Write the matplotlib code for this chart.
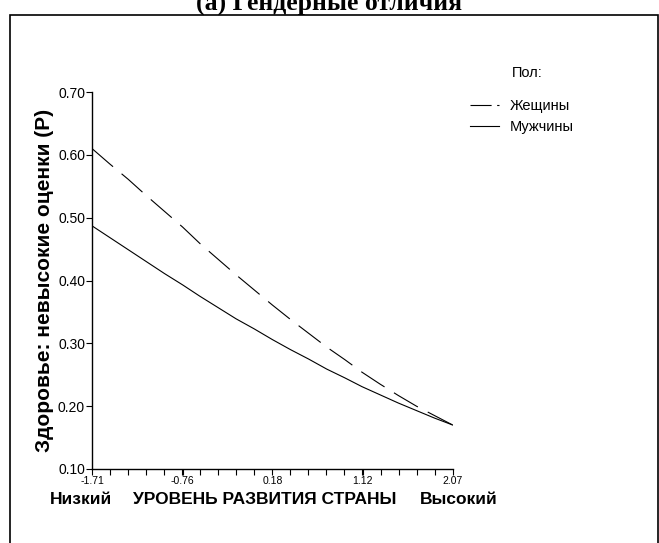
import numpy as np
import matplotlib.pyplot as plt
from matplotlib.patches import Rectangle
from matplotlib.ticker import FixedLocator

# development level (x) and predicted probability of poor self-rated health
dev_level = [-1.71, -1.52, -1.33, -1.14, -0.95, -0.76, -0.58, -0.39, -0.20, -0.01,
             0.18, 0.37, 0.56, 0.75, 0.94, 1.12, 1.31, 1.50, 1.69, 1.88, 2.07]
women = [0.610, 0.585, 0.561, 0.535, 0.510, 0.485, 0.459, 0.434, 0.409, 0.385,
         0.361, 0.338, 0.316, 0.294, 0.274, 0.254, 0.235, 0.217, 0.200, 0.185, 0.170]
men = [0.487, 0.468, 0.449, 0.430, 0.411, 0.393, 0.375, 0.357, 0.339, 0.323,
       0.306, 0.290, 0.275, 0.259, 0.245, 0.231, 0.218, 0.205, 0.193, 0.181, 0.170]

x_major = [-1.71, -0.76, 0.18, 1.12, 2.07]
x_labels = ['-1.71', '-0.76', '0.18', '1.12', '2.07']
y_major = [0.10, 0.20, 0.30, 0.40, 0.50, 0.60, 0.70]

sans = ['Liberation Sans', 'DejaVu Sans']

W, H = 659, 543
fig = plt.figure(figsize=(W / 100, H / 100), dpi=100)
ax = fig.add_axes([92 / W, 1 - 469 / H, 360.7 / W, 377 / H])

ax.plot(dev_level, women, color='black', lw=0.8, linestyle=(0, (25, 10)), label='Жещины')
ax.plot(dev_level, men, color='black', lw=0.8, label='Мужчины')

ax.set_xlim(-1.71, 2.07)
ax.set_ylim(0.10, 0.70)
ax.spines['top'].set_visible(False)
ax.spines['right'].set_visible(False)
for s in ['left', 'bottom']:
    ax.spines[s].set_linewidth(1.0)

ax.set_xticks(x_major)
ax.set_xticklabels(x_labels, family=sans, fontsize=7.5)
ax.xaxis.set_minor_locator(FixedLocator(np.linspace(-1.71, 2.07, 21)))
ax.set_yticks(y_major)
ax.set_yticklabels(['%.2f' % v for v in y_major], family=sans, fontsize=10)
ax.tick_params(axis='x', which='both', length=4, width=0.8, pad=1)
ax.tick_params(axis='y', length=4, width=0.8, pad=1)

ax.set_ylabel('Здоровье: невысокие оценки (Р)', family=sans, fontsize=15,
              fontweight='bold', labelpad=3)

leg = ax.legend(loc='upper left', bbox_to_anchor=(463 / W, 1 - 92 / H),
                bbox_transform=fig.transFigure, frameon=False, handlelength=2.0,
                handletextpad=0.7, labelspacing=0.45, borderpad=0,
                prop={'family': sans, 'size': 10.5})
leg.get_lines()[0].set_linestyle((0, (19, 5)))

fig.text(512 / W, 1 - 73 / H, 'Пол:', family=sans, fontsize=10.5, va='center')

# x-axis caption row
fig.text(50 / W, 1 - 500 / H, 'Низкий', family=sans, fontsize=12.5,
         fontweight='bold', va='center')
fig.text(133 / W, 1 - 500 / H, 'УРОВЕНЬ РАЗВИТИЯ СТРАНЫ', family=sans, fontsize=12.5,
         fontweight='bold', va='center')
fig.text(420 / W, 1 - 500 / H, 'Высокий', family=sans, fontsize=12.5,
         fontweight='bold', va='center')

# title cut off at the top of the page
fig.text(0.5, 1 - 11 / H, '(а) Гендерные отличия', family='Liberation Serif',
         fontsize=18.5, fontweight='bold', ha='center', va='baseline')

fig.patches.append(Rectangle((10 / W, -0.05), (657.5 - 10) / W, 1.05 - 15 / H,
                             transform=fig.transFigure, fill=False,
                             edgecolor='black', lw=1.2))

fig.savefig('out.png', dpi=100)
